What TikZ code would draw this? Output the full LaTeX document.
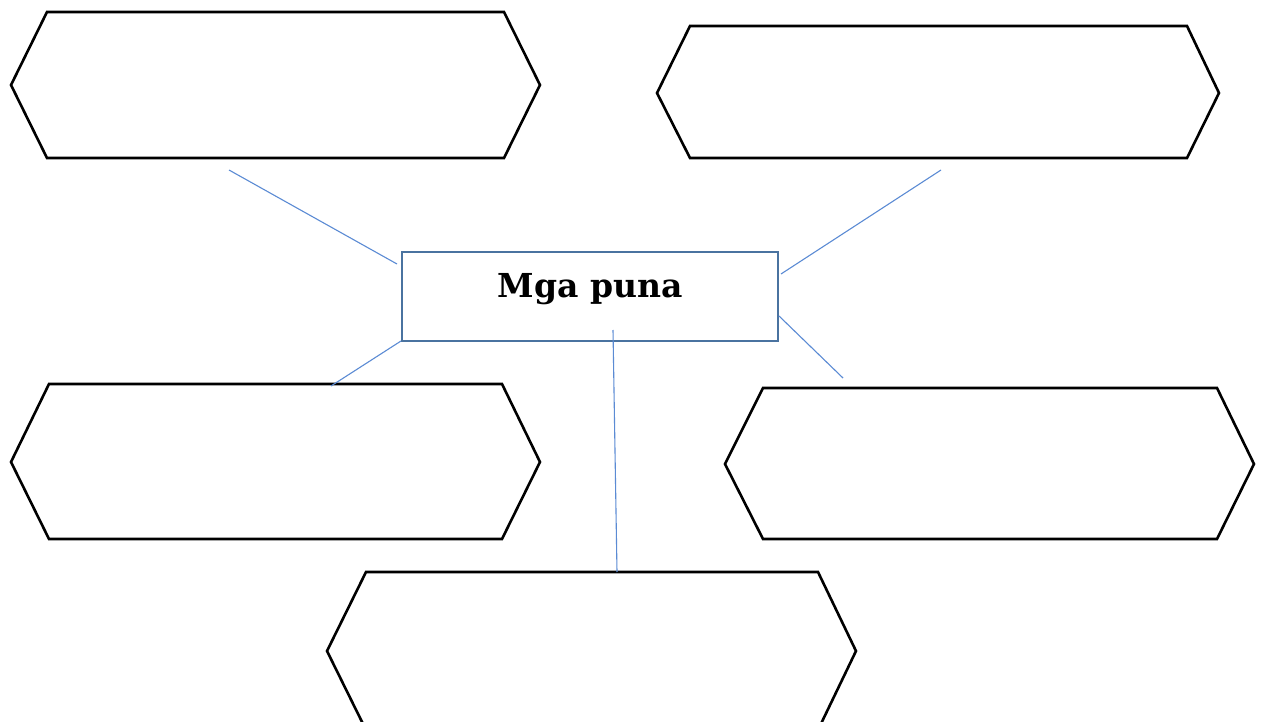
\documentclass[tikz,border=0pt]{standalone}
\usepackage{fontspec}
\newfontfamily\titlefont{DejaVu Serif}
\definecolor{boxblue}{HTML}{4A73A0}
\definecolor{linkblue}{HTML}{5B8BD4}
\begin{document}
\begin{tikzpicture}[x=1pt,y=-1pt,
  hexbox/.style={draw=black,line width=2.6pt,line join=miter,fill=white},
  link/.style={draw=linkblue,line width=1.1pt},
  mainbox/.style={draw=boxblue,line width=2.4pt,fill=white,minimum width=376pt,minimum height=89pt,inner sep=0pt,anchor=north west}]
\useasboundingbox (0,0) rectangle (1261,722);
\clip (0,0) rectangle (1261,722);
\fill[white] (0,0) rectangle (1261,722);
% connectors
\coordinate (c1a) at (229,170); \coordinate (c1b) at (397,264);
\coordinate (c2a) at (941,170); \coordinate (c2b) at (781,274);
\coordinate (c3a) at (401,341); \coordinate (c3b) at (331,386);
\coordinate (c4a) at (779,316); \coordinate (c4b) at (843,378);
\coordinate (c5a) at (613,330); \coordinate (c5b) at (617,572);
% hexagons
\draw[hexbox] (47,12) -- (504,12) -- (540,85) -- (504,158) -- (47,158) -- (11,85) -- cycle;
\draw[hexbox] (690,26) -- (1187,26) -- (1219,93) -- (1187,158) -- (690,158) -- (657,93) -- cycle;
\draw[hexbox] (49,384) -- (502,384) -- (540,462) -- (502,539) -- (49,539) -- (11,462) -- cycle;
\draw[hexbox] (763,388) -- (1217,388) -- (1254,464) -- (1217,539) -- (763,539) -- (725,464) -- cycle;
\draw[hexbox] (366,572) -- (818,572) -- (856,651) -- (818,730) -- (366,730) -- (327,651) -- cycle;
% center box
\node[mainbox] (main) at (401,251) {};
\node[font=\titlefont\bfseries\fontsize{33}{38}\selectfont,inner sep=0pt] (title) at (590,289) {Mga puna};
\draw[link] (c1a) -- (c1b);
\draw[link] (c2a) -- (c2b);
\draw[link] (c3a) -- (c3b);
\draw[link] (c4a) -- (c4b);
\draw[link] (c5a) -- (c5b);
\end{tikzpicture}
\end{document}
